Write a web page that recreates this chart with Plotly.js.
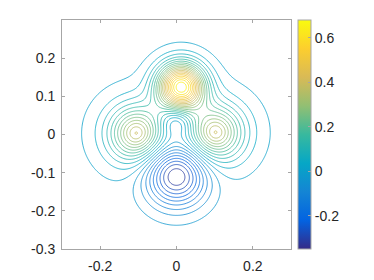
<!DOCTYPE html>
<html>
<head>
<meta charset="utf-8">
<script src="https://cdn.plot.ly/plotly-3.0.1.min.js"></script>
<style>
  html, body { margin: 0; padding: 0; background: #fff; }
  #plot { width: 374px; height: 280px; }
</style>
</head>
<body>
<div id="plot"></div>
<script>
'use strict';

// lobes of the field: centre, height, reach, shape
const lobeX     = [0.012, -0.105, 0.102,  0.000, 0.000];
const lobeY     = [0.125,  0.003, 0.005, -0.106, 0.035];
const lobeAmp   = [0.66,   0.41,  0.41,  -0.35, -0.14];
const lobeReach = [0.060,  0.068, 0.068,  0.078, 0.042];
const lobePow   = [2.0,    1.6,   1.6,    2.0,   2.0];

// sampling grid
const gridLo = -0.3, gridHi = 0.3, gridN = 241;

// contour levels and colour range
const levelStart = -0.335, levelEnd = 0.68, levelStep = 0.035;
const colorMin = -0.35, colorMax = 0.68;

// tick labels
const xTicks = [-0.2, 0, 0.2];
const xTickText = ['-0.2', '0', '0.2'];
const yTicks = [-0.3, -0.2, -0.1, 0, 0.1, 0.2];
const yTickText = ['-0.3', '-0.2', '-0.1', '0', '0.1', '0.2'];
const cTicks = [-0.2, 0, 0.2, 0.4, 0.6];
const cTickText = ['-0.2', '0', '0.2', '0.4', '0.6'];

const parula = [
  [0, '#352a87'], [0.125, '#0363e1'], [0.25, '#1485d4'], [0.375, '#06a7c6'],
  [0.5, '#38b99e'], [0.625, '#92bf73'], [0.75, '#d9ba56'], [0.875, '#fcce2e'], [1, '#f9fb0e'],
];

const gx = [];
for (let i = 0; i < gridN; i++) gx.push(gridLo + i * (gridHi - gridLo) / (gridN - 1));
const gy = gx.slice();

function field(x, y) {
  let v = 0;
  for (let k = 0; k < lobeX.length; k++) {
    const r = Math.hypot(x - lobeX[k], y - lobeY[k]);
    v += lobeAmp[k] * Math.exp(-Math.pow(r / lobeReach[k], lobePow[k]));
  }
  return v;
}
const z = gy.map(y => gx.map(x => field(x, y)));

const ink = '#262626', frame = '#a6a6a6';
const font = { family: 'Liberation Sans, Arial, sans-serif', size: 14, color: ink };

const contour = {
  type: 'contour', x: gx, y: gy, z,
  zmin: colorMin, zmax: colorMax, zauto: false,
  colorscale: parula, showscale: false,
  contours: { start: levelStart, end: levelEnd, size: levelStep, coloring: 'lines' },
  line: { width: 0.8, smoothing: 1 },
  hoverinfo: 'skip',
};

// invisible trace only to carry the continuous colorbar
const bar = {
  type: 'scatter', mode: 'markers', x: [0, 0], y: [0, 0], hoverinfo: 'skip',
  marker: {
    size: 1, opacity: 0, color: [colorMin, colorMax],
    cmin: colorMin, cmax: colorMax, colorscale: parula, showscale: true,
    colorbar: {
      x: 1.0306, xanchor: 'left', xpad: 0, y: 0.5, yanchor: 'middle', ypad: 0,
      len: 1, lenmode: 'fraction', thickness: 13, thicknessmode: 'pixels',
      outlinewidth: 1, outlinecolor: frame,
      tickmode: 'array', tickvals: cTicks, ticktext: cTickText,
      ticks: 'inside', ticklen: 3, tickcolor: frame, tickfont: font,
    },
  },
};

const axisBase = {
  showgrid: false, zeroline: false, showline: true, linecolor: frame, linewidth: 1,
  mirror: 'ticks', ticks: 'inside', ticklen: 3, tickcolor: frame, tickfont: font,
  tickmode: 'array', fixedrange: true,
};

Plotly.newPlot('plot', [contour, bar], {
  width: 374, height: 280,
  margin: { l: 62, r: 83, t: 20, b: 31 },
  paper_bgcolor: '#fff', plot_bgcolor: '#fff',
  showlegend: false, font,
  xaxis: Object.assign({}, axisBase, { range: [-0.3, 0.3], tickvals: xTicks, ticktext: xTickText, ticklabelstandoff: 4 }),
  yaxis: Object.assign({}, axisBase, { range: [-0.3, 0.3], tickvals: yTicks, ticktext: yTickText, ticklabelstandoff: 3 }),
}, { staticPlot: true, displayModeBar: false });
</script>
</body>
</html>
